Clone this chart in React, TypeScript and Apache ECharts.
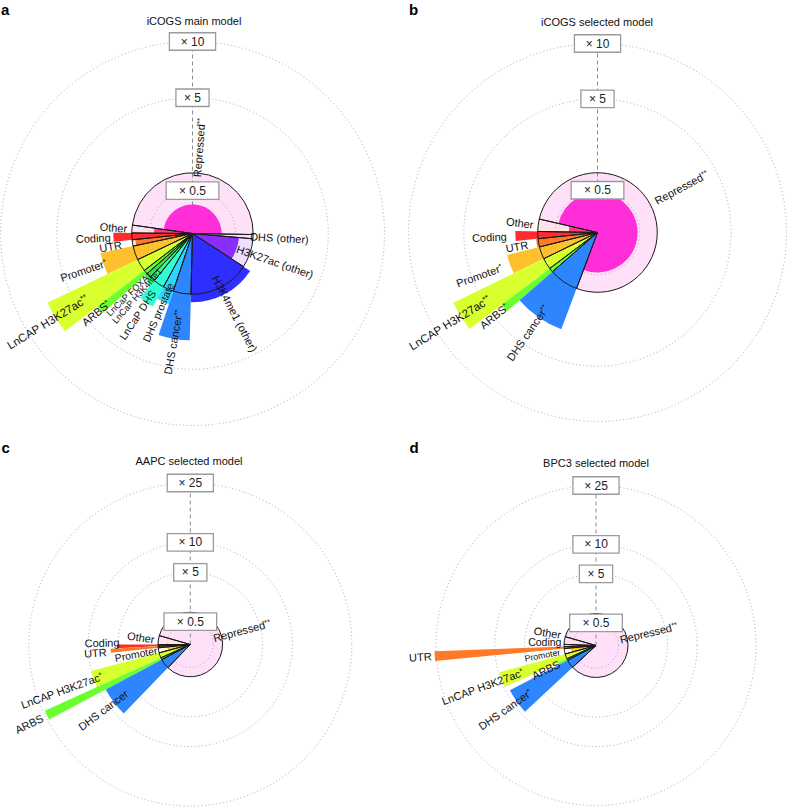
import React, { useEffect, useRef } from "react";
import * as echarts from "echarts";

const FONT = "'Liberation Sans', Arial, Helvetica, sans-serif";

// ---------- colours per annotation ----------
const COLOR_BY_CATEGORY: Record<string, string> = {
  "Other": "#ff3d7f",
  "Coding": "#ff2d2d",
  "UTR": "#ff7a26",
  "Promoter": "#ffc02e",
  "LnCAP H3K27ac": "#d8ff2e",
  "ARBS": "#6cff2e",
  "LnCaP FOXA1": "#2ee84a",
  "LnCaP H3K4me1": "#2eff84",
  "LnCaP DHS": "#2effd2",
  "DHS prostate": "#2ed6ff",
  "DHS cancer": "#2e86ff",
  "H3K4me1 (other)": "#2e2eff",
  "H3K27ac (other)": "#8a2eff",
  "DHS (other)": "#dc2eff",
  "Repressed": "#ff2ed8",
};

// ---------- panel a : iCOGS main model ----------
const aTitle = "iCOGS main model";
const aCategories = ["Other", "Coding", "UTR", "Promoter", "LnCAP H3K27ac", "ARBS", "LnCaP FOXA1", "LnCaP H3K4me1", "LnCaP DHS", "DHS prostate", "DHS cancer", "H3K4me1 (other)", "H3K27ac (other)", "DHS (other)", "Repressed"];
const aStars = [0, 0, 0, 1, 2, 1, 0, 0, 0, 0, 2, 0, 0, 0, 2];
const aShareDeg = [7.5, 6.5, 6, 13.5, 12, 4, 4.5, 5, 10.5, 10, 17, 58.5, 28, 4, 173];
const aStartDeg = 172;
const aFold = [0.4, 1.7, 0.9, 2.4, 7.0, 3.9, 1.1, 1.2, 1.87, 1.5, 3.1, 1.28, 0.59, 0.05, 0.23];
const aRings = [0.5, 5, 10];

// ---------- panel b : iCOGS selected model ----------
const bTitle = "iCOGS selected model";
const bCategories = ["Other", "Coding", "UTR", "Promoter", "LnCAP H3K27ac", "ARBS", "DHS cancer", "Repressed"];
const bStars = [0, 0, 0, 1, 2, 1, 2, 2];
const bShareDeg = [12, 7, 8, 12, 11, 4, 28.5, 277.5];
const bStartDeg = 167;
const bFold = [0.23, 1.89, 1.07, 2.43, 7.2, 4.05, 2.99, 0.45];
const bRings = [0.5, 5, 10];

// ---------- panel c : AAPC selected model ----------
const cTitle = "AAPC selected model";
const cCategories = ["Other", "Coding", "UTR", "Promoter", "LnCAP H3K27ac", "ARBS", "DHS cancer", "Repressed"];
const cStars = [0, 0, 0, 0, 1, 0, 0, 2];
const cShareDeg = [16, 3, 3, 9, 9.5, 3.5, 18, 298];
const cStartDeg = 164;
const cFold = [0, 5.15, 6.1, 0.5, 10.1, 24.5, 8.8, 0];
const cRings = [0.5, 5, 10, 25];

// ---------- panel d : BPC3 selected model ----------
const dTitle = "BPC3 selected model";
const dCategories = ["Other", "Coding", "UTR", "Promoter", "LnCAP H3K27ac", "ARBS", "DHS cancer", "Repressed"];
const dStars = [0, 0, 0, 0, 1, 0, 1, 2];
const dShareDeg = [14, 4, 3.5, 10, 9, 3, 15.5, 301];
const dStartDeg = 164;
const dFold = [0, 0.3, 25.5, 0.6, 9.8, 1.7, 9.2, 0];
const dRings = [0.5, 5, 10, 25];

// ---------- layout (positions / sizes, not data) ----------
// label inner-end radius in units of the x1 circle, font size, and sideways shift (px, + = text-up)
const aLabelR = [1.08, 1.35, 1.18, 1.5, 2.03, 1.79, 0.95, 0.8, 1.15, 0.9, 1.28, 0.8, 0.77, 0.95, 0.93];
const aLabelSize = [11, 11, 11, 11, 11.5, 11, 9, 9, 10.5, 10.5, 11, 11, 11, 11, 11];
const aLabelShift = [0, 0, 0, 0, 0, 0, 0, 0, 0, 0, 0, 0, 0, 0, 0];
const bLabelR = [1.08, 1.52, 1.18, 1.7, 2.12, 1.95, 1.5, 1.1];
const bLabelSize = [11, 11, 11, 11, 11.5, 11, 11, 11];
const bLabelShift = [0, 0, 0, 0, 0, 0, 0, 0];
const cLabelR = [1.12, 2.19, 2.6, 1.04, 2.9, 5.1, 2.46, 0.74];
const cLabelSize = [11, 11, 11, 10.5, 11, 11, 11, 11];
const cLabelShift = [0, 4, -1, 0, 0, 0, 0, 0];
const dLabelR = [1.13, 1.08, 5.15, 1.14, 2.43, 1.27, 2.5, 0.77];
const dLabelSize = [11, 10.5, 11, 8.8, 11, 11, 11, 11];
const dLabelShift = [5, 4, 0, 0, 0, 0, 0, 0];

const PANELS = [
  { letter: "a", letterPos: [1, 9.8], title: aTitle, titlePos: [194, 21], categories: aCategories, stars: aStars, share: aShareDeg, start: aStartDeg, fold: aFold, rings: aRings, labelR: aLabelR, labelSize: aLabelSize, labelShift: aLabelShift, center: [192.5, 233.5], radius: 192 },
  { letter: "b", letterPos: [409, 9.8], title: bTitle, titlePos: [597, 22], categories: bCategories, stars: bStars, share: bShareDeg, start: bStartDeg, fold: bFold, rings: bRings, labelR: bLabelR, labelSize: bLabelSize, labelShift: bLabelShift, center: [597.5, 232.5], radius: 189 },
  { letter: "c", letterPos: [1.5, 447.8], title: cTitle, titlePos: [189, 461], categories: cCategories, stars: cStars, share: cShareDeg, start: cStartDeg, fold: cFold, rings: cRings, labelR: cLabelR, labelSize: cLabelSize, labelShift: cLabelShift, center: [190.3, 644.5], radius: 161.5 },
  { letter: "d", letterPos: [409.5, 447.8], title: dTitle, titlePos: [596, 462.5], categories: dCategories, stars: dStars, share: dShareDeg, start: dStartDeg, fold: dFold, rings: dRings, labelR: dLabelR, labelSize: dLabelSize, labelShift: dLabelShift, center: [596, 645.5], radius: 160 },
];

function lighten(hex: string, t: number) {
  const n = parseInt(hex.slice(1), 16);
  const r = (n >> 16) & 255, g = (n >> 8) & 255, b = n & 255;
  const m = (v: number) => Math.round(255 - t * (255 - v));
  return `rgb(${m(r)},${m(g)},${m(b)})`;
}

let measureCtx: CanvasRenderingContext2D | null = null;
function textWidth(text: string, size: number) {
  if (!measureCtx) measureCtx = document.createElement("canvas").getContext("2d");
  if (!measureCtx) return text.length * size * 0.55;
  measureCtx.font = `${size}px ${FONT}`;
  return measureCtx.measureText(text).width;
}

function sectorElement(params: any, api: any, fill: string, stroke: string, lineWidth: number) {
  const cs = params.coordSys;
  const cx = cs.cx, cy = cs.cy;
  const v = api.value(0);
  const s = api.value(2), e = api.value(3);
  const ps = api.coord([1, s % 360]);
  const pe = api.coord([1, e % 360]);
  const pr = api.coord([v, s % 360]);
  const r = Math.hypot(pr[0] - cx, pr[1] - cy);
  const a0 = Math.atan2(pe[1] - cy, pe[0] - cx);
  let a1 = Math.atan2(ps[1] - cy, ps[0] - cx);
  while (a1 <= a0) a1 += 2 * Math.PI;
  return {
    type: "sector",
    shape: { cx, cy, r0: 0, r, startAngle: a0, endAngle: a1, clockwise: true },
    style: { fill, stroke, lineWidth, lineJoin: "round" },
  };
}

function buildOption() {
  const polar: any[] = [];
  const angleAxis: any[] = [];
  const radiusAxis: any[] = [];
  const series: any[] = [];
  const graphic: any[] = [];

  PANELS.forEach((p, i) => {
    const maxV = Math.sqrt(Math.max(...p.rings));
    polar.push({ center: p.center, radius: p.radius });
    angleAxis.push({ polarIndex: i, type: "value", min: 0, max: 360, startAngle: 0, clockwise: false, show: false });
    radiusAxis.push({ polarIndex: i, type: "value", min: 0, max: maxV, show: false });

    let acc = p.start;
    const sectors = p.categories.map((name, k) => {
      const s = acc;
      const e = acc + p.share[k];
      acc = e;
      return { name, s, e, mid: ((s + e) / 2) % 360, k };
    });
    const colorOf = (k: number) => COLOR_BY_CATEGORY[p.categories[k]];

    const base = { type: "custom", coordinateSystem: "polar", polarIndex: i, silent: true, animation: false, encode: { radius: 0, angle: 1 } };

    // baseline (x1) sectors, light fill
    series.push({
      ...base, z: 1,
      data: sectors.map((x) => [1, x.mid, x.s, x.e, x.k]),
      renderItem: (params: any, api: any) => sectorElement(params, api, lighten(colorOf(api.value(4)), 0.15), "none", 0),
    });
    // reference rings
    series.push({
      ...base, z: 2,
      data: p.rings.map((f) => [Math.sqrt(f), 90]),
      renderItem: (params: any, api: any) => {
        const cs = params.coordSys;
        const pt = api.coord([api.value(0), 0]);
        const r = Math.hypot(pt[0] - cs.cx, pt[1] - cs.cy);
        return { type: "circle", shape: { cx: cs.cx, cy: cs.cy, r }, style: { fill: "none", stroke: "#a8a8a8", lineWidth: 1, lineDash: [1, 2.6] } };
      },
    });
    // dashed vertical guide
    series.push({
      ...base, z: 3,
      data: [[maxV, 90]],
      renderItem: (params: any, api: any) => {
        const cs = params.coordSys;
        const pt = api.coord([api.value(0), 90]);
        return { type: "line", shape: { x1: cs.cx, y1: cs.cy, x2: pt[0], y2: pt[1] }, style: { stroke: "#8c8c8c", lineWidth: 1, lineDash: [4, 3] } };
      },
    });
    // enrichment sectors (radius = sqrt(fold), area proportional)
    series.push({
      ...base, z: 4,
      data: sectors.map((x) => [Math.sqrt(p.fold[x.k]), x.mid, x.s, x.e, x.k]),
      renderItem: (params: any, api: any) => {
        if (api.value(0) <= 0) return { type: "group", children: [] };
        return sectorElement(params, api, colorOf(api.value(4)), "none", 0);
      },
    });
    // baseline outlines
    series.push({
      ...base, z: 5,
      data: sectors.map((x) => [1, x.mid, x.s, x.e, x.k]),
      renderItem: (params: any, api: any) => sectorElement(params, api, "none", "#1a1a1a", 1),
    });
    // labels
    series.push({
      ...base, z: 6,
      data: sectors.map((x) => [p.labelR[x.k], x.mid, x.s, x.e, x.k]),
      renderItem: (params: any, api: any) => {
        const k = api.value(4);
        const mid = api.value(1);
        const pt = api.coord([api.value(0), mid]);
        const left = mid > 90 && mid < 270;
        const rad = (mid * Math.PI) / 180;
        const rot = left ? rad - Math.PI : rad;
        const sh = p.labelShift[k];
        const x = pt[0] - sh * Math.sin(rot);
        const y = pt[1] - sh * Math.cos(rot);
        const size = p.labelSize[k];
        const st = p.stars[k];
        const text = p.categories[k] + (st ? `{s|${"*".repeat(st)}}` : "");
        return {
          type: "text",
          x, y,
          rotation: rot,
          style: {
            text, fill: "#111", fontSize: size, fontFamily: FONT,
            align: left ? "right" : "left", textAlign: left ? "right" : "left",
            verticalAlign: "middle", textVerticalAlign: "middle",
            rich: { s: { fontSize: size * 0.7, fontFamily: FONT, fill: "#111", verticalAlign: "top", lineHeight: size * 0.8 } },
          },
        };
      },
    });
    // ring boxes
    series.push({
      ...base, z: 7,
      data: p.rings.map((f) => [Math.sqrt(f), 90, f]),
      renderItem: (params: any, api: any) => {
        const f = api.value(2);
        const pt = api.coord([api.value(0), 90]);
        const label = `\u00d7 ${f}`;
        const w = textWidth(label, 12) * 1.95;
        const h = 17.5;
        return {
          type: "group",
          children: [
            { type: "rect", shape: { x: pt[0] - w / 2, y: pt[1] - h / 2, width: w, height: h }, style: { fill: "#fff", stroke: "#9a9a9a", lineWidth: 1.3 } },
            { type: "text", x: pt[0], y: pt[1], style: { text: label, fill: "#222", fontSize: 12, fontFamily: FONT, align: "center", textAlign: "center", verticalAlign: "middle", textVerticalAlign: "middle" } },
          ],
        };
      },
    });

    graphic.push({
      type: "text", x: p.letterPos[0], y: p.letterPos[1], silent: true,
      style: { text: p.letter, fill: "#000", fontSize: 15, fontWeight: "bold", fontFamily: FONT, align: "left", textAlign: "left", verticalAlign: "middle", textVerticalAlign: "middle" },
    });
    graphic.push({
      type: "text", x: p.titlePos[0], y: p.titlePos[1], silent: true,
      style: { text: p.title, fill: "#111", fontSize: 11, fontFamily: FONT, align: "center", textAlign: "center", verticalAlign: "middle", textVerticalAlign: "middle" },
    });
  });

  return { animation: false, backgroundColor: "#fff", polar, angleAxis, radiusAxis, series, graphic };
}

export default function App() {
  const ref = useRef<HTMLDivElement>(null);
  useEffect(() => {
    document.body.style.margin = "0";
    if (!ref.current) return;
    const chart = echarts.init(ref.current, null, { renderer: "svg" });
    chart.setOption(buildOption() as any);
    return () => chart.dispose();
  }, []);
  return <div ref={ref} style={{ width: 788, height: 807, background: "#fff" }} />;
}
